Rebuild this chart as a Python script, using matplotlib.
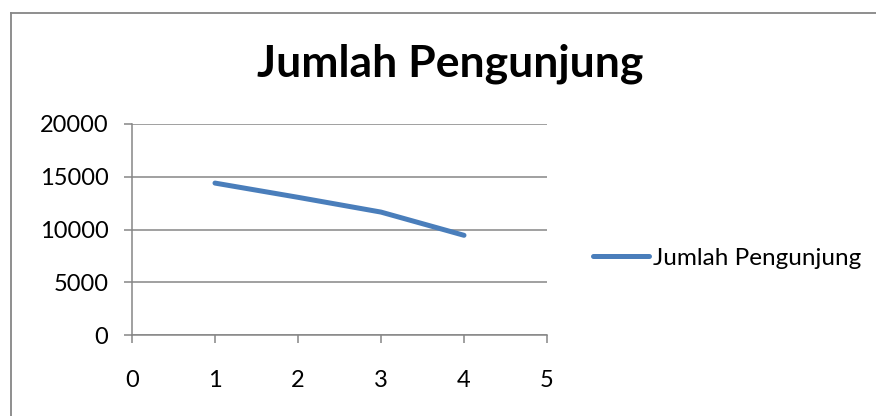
import matplotlib.pyplot as plt
from matplotlib.lines import Line2D

plt.rcParams['font.family'] = ['Lato', 'DejaVu Sans']

# data
bulan = [1, 2, 3, 4]
pengunjung = [14400, 13050, 11650, 9450]
x_ticks = [0, 1, 2, 3, 4, 5]
y_ticks = [0, 5000, 10000, 15000, 20000]

W, H = 876, 416
fig = plt.figure(figsize=(W / 100, H / 100), dpi=100)
ax = fig.add_axes([132 / W, 1 - 335 / H, (547 - 132) / W, (335 - 124) / H])

grey = '#868686'
ax.plot(bulan, pengunjung, color='#4A7EBB', lw=3.6, solid_capstyle='round',
        solid_joinstyle='round', label='Jumlah Pengunjung', zorder=3)

ax.set_xlim(0, 5)
ax.set_ylim(0, 20000)
ax.set_xticks(x_ticks)
ax.set_yticks(y_ticks)
ax.yaxis.grid(True, color=grey, lw=1.1)
ax.set_axisbelow(True)
for s in ['top', 'right']:
    ax.spines[s].set_visible(False)
for s in ['left', 'bottom']:
    ax.spines[s].set_color(grey)
    ax.spines[s].set_linewidth(1.1)
ax.tick_params(axis='both', colors=grey, length=6, width=1.1, labelcolor='black', labelsize=17)
ax.tick_params(axis='y', pad=11)
ax.tick_params(axis='x', pad=19)

fig.text(450 / W, 1 - 76 / H, 'Jumlah Pengunjung', ha='center', va='baseline',
         fontsize=32, fontweight='bold')

leg = ax.legend(loc='center left', bbox_to_anchor=(593 / W, 1 - 258 / H),
                bbox_transform=fig.transFigure, frameon=False, fontsize=17.5,
                handlelength=2.3, handletextpad=0.15, borderpad=0, borderaxespad=0)
for h in leg.get_lines():
    h.set_solid_capstyle('round')

# chart area border (left and top only visible)
fig.add_artist(Line2D([10.5 / W, 10.5 / W], [0, 1 - 13 / H], color=grey, lw=1.3,
                      transform=fig.transFigure))
fig.add_artist(Line2D([10.5 / W, 1], [1 - 13 / H, 1 - 13 / H], color=grey, lw=1.3,
                      transform=fig.transFigure))

fig.savefig('out.png', dpi=100)
